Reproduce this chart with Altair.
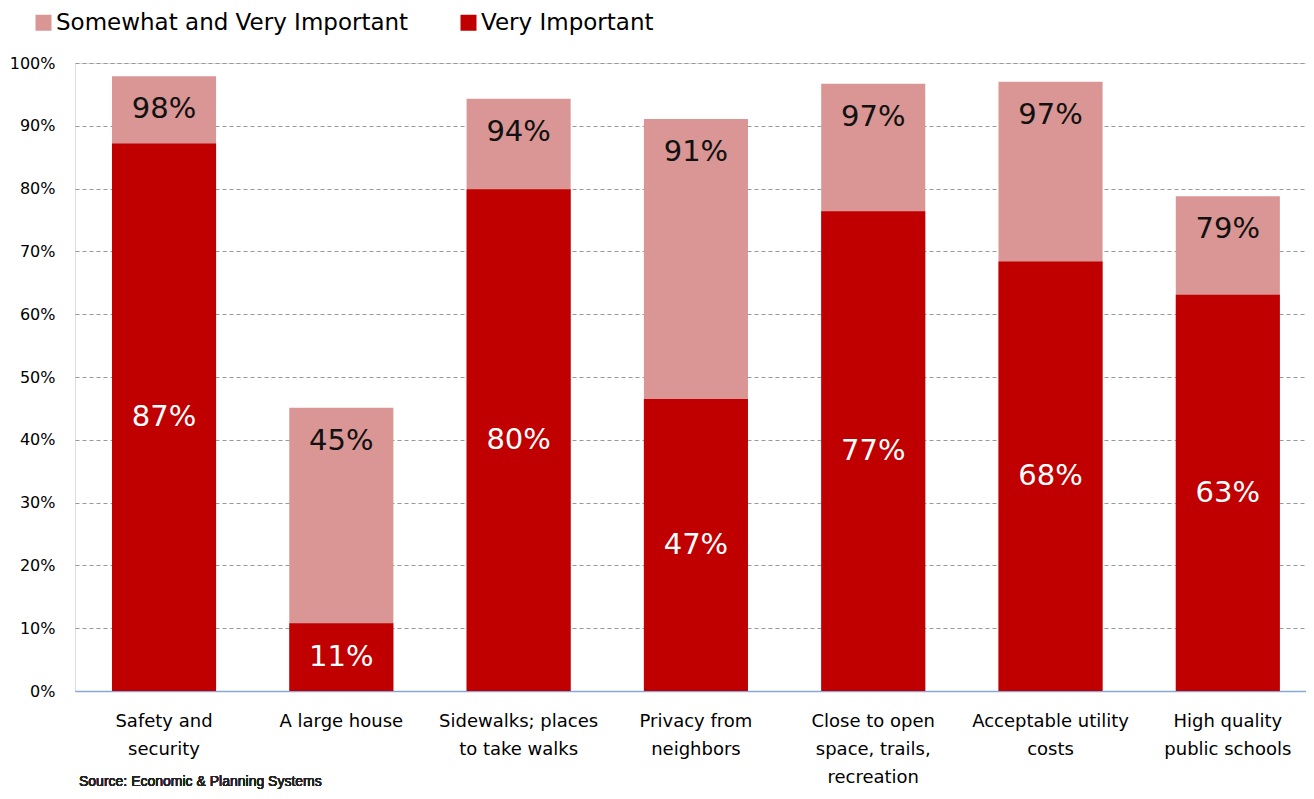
import altair as alt
import pandas as pd

categories = [
    "Safety and\nsecurity",
    "A large house",
    "Sidewalks; places\nto take walks",
    "Privacy from\nneighbors",
    "Close to open\nspace, trails,\nrecreation",
    "Acceptable utility\ncosts",
    "High quality\npublic schools",
]
somewhat_and_very = [0.979, 0.451, 0.943, 0.911, 0.967, 0.970, 0.788]
very = [0.872, 0.108, 0.799, 0.465, 0.764, 0.684, 0.631]
total_labels = ["98%", "45%", "94%", "91%", "97%", "97%", "79%"]
very_labels = ["87%", "11%", "80%", "47%", "77%", "68%", "63%"]

FONT = "DejaVu Sans"
LIGHT = "#D99694"
DARK = "#C00000"

df = pd.DataFrame({
    "cat": categories,
    "total": somewhat_and_very,
    "very": very,
    "very_mid": [v / 2 for v in very],
    "tlab": total_labels,
    "vlab": very_labels,
})

x = alt.X(
    "cat:N",
    sort=categories,
    title=None,
    scale=alt.Scale(paddingInner=0.413, paddingOuter=0.178, align=0.586),
    axis=alt.Axis(
        labelAngle=0,
        labelFont=FONT,
        labelFontSize=18,
        labelColor="#000000",
        labelLineHeight=28,
        labelPadding=21,
        labelBaseline="top",
        labelExpr="split(datum.label, '\\n')",
        ticks=False,
        domain=True,
        domainColor="#86A8D8",
        domainWidth=1.5,
        grid=False,
    ),
)

color_scale = alt.Scale(
    domain=["Somewhat and Very Important", "Very Important"],
    range=[LIGHT, DARK],
)
legend = alt.Legend(
    title=None,
    orient="none",
    legendX=-43,
    legendY=-52,
    direction="horizontal",
    symbolType="square",
    symbolSize=256,
    symbolStrokeWidth=0,
    symbolOpacity=1,
    labelFont=FONT,
    labelFontSize=23,
    labelColor="#000000",
    labelOffset=1,
    columnPadding=48,
    labelLimit=600,
)

base = alt.Chart(df)

light_bar = base.mark_bar().transform_calculate(
    series="'Somewhat and Very Important'"
).encode(
    x=x,
    y=alt.Y(
        "total:Q",
        title=None,
        scale=alt.Scale(domain=[0, 1], nice=False),
        axis=alt.Axis(
            values=[i / 10 for i in range(11)],
            format=".0%",
            labelFont=FONT,
            labelFontSize=16,
            labelColor="#000000",
            labelPadding=20,
            ticks=False,
            domain=False,
            grid=True,
            gridColor="#999999",
            gridDash=[4, 3],
            gridWidth=1,
        ),
    ),
    color=alt.Color("series:N", scale=color_scale, legend=legend),
)

dark_bar = base.mark_bar().transform_calculate(
    series="'Very Important'"
).encode(
    x=x,
    y=alt.Y("very:Q"),
    color=alt.Color("series:N", scale=color_scale, legend=legend),
)

light_text = base.mark_text(
    font=FONT, fontSize=29, color="#111111", baseline="middle", dy=33
).encode(x=x, y="total:Q", text="tlab:N")

dark_text = base.mark_text(
    font=FONT, fontSize=29, color="#FFFFFF", baseline="middle"
).encode(x=x, y="very_mid:Q", text="vlab:N")

source = base.mark_text(
    font="Liberation Sans", fontSize=14, fontWeight="normal", color="#222222",
    align="left", baseline="middle"
).encode(
    x=alt.value(4), y=alt.value(719), text=alt.value("Source: Economic & Planning Systems")
)

chart = (
    alt.layer(light_bar, dark_bar, light_text, dark_text, source)
    .properties(
        width=1231,
        height=628,
        autosize=alt.AutoSizeParams(type="none"),
        padding={"left": 67, "top": 55, "right": 0, "bottom": 99},
    )
    .configure_view(stroke=None)
    .configure(background="#FFFFFF")
)

chart.save("out.html", embed_options={"renderer": "svg", "actions": False})
